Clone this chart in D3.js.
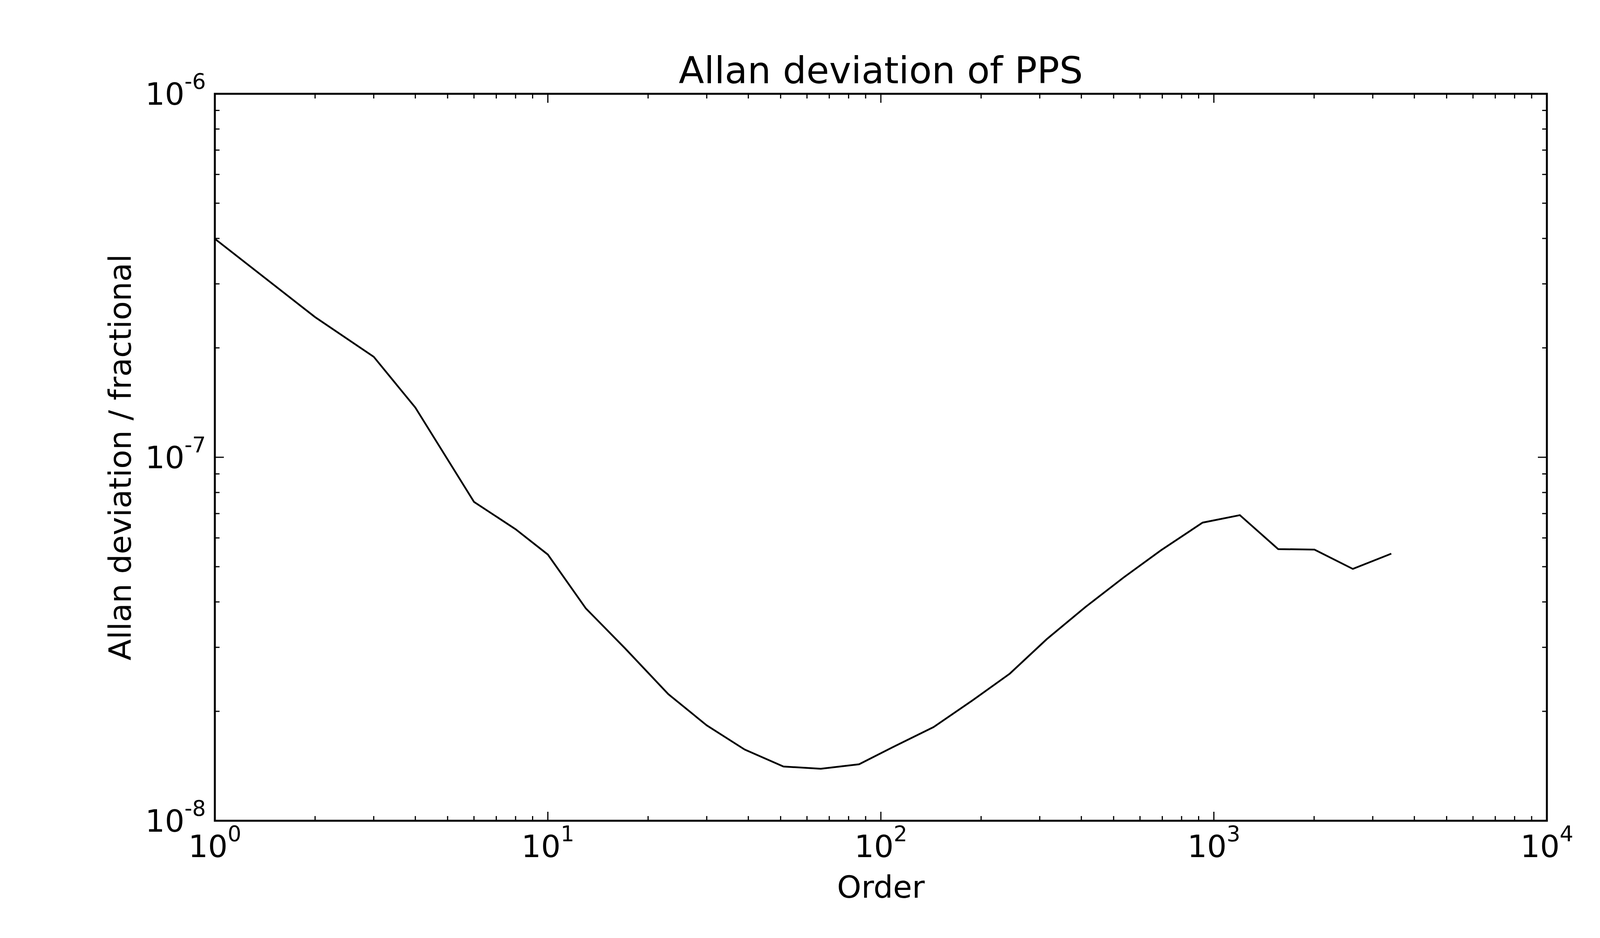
<!DOCTYPE html>
<html><head><meta charset="utf-8">
<script src="https://cdn.jsdelivr.net/npm/d3@7"></script>
<style>body{margin:0;background:#fff}text{font-family:"DejaVu Sans";fill:#000}</style>
</head><body>
<script>
const orders = [1,2,3,4,6,8,10,13,17,23,30,39,51,66,86,111,144,188,244,315,411,536,694,925,1197,1560,2005,2614,3410];
const adev = [3.99e-7,2.43e-7,1.89e-7,1.37e-7,7.54e-8,6.34e-8,5.40e-8,3.84e-8,2.99e-8,2.23e-8,1.83e-8,1.57e-8,1.41e-8,1.39e-8,1.43e-8,1.61e-8,1.81e-8,2.14e-8,2.54e-8,3.16e-8,3.87e-8,4.67e-8,5.55e-8,6.61e-8,6.93e-8,5.59e-8,5.57e-8,4.93e-8,5.43e-8];
const xExp = [0,1,2,3,4];
const yExp = [-6,-7,-8];

const W=4400,H=2400,L=550,R=3960,T=240,B=2100;
const svg=d3.select("body").append("svg").attr("width",W).attr("height",H);
const x=d3.scaleLog().domain([1,1e4]).range([L,R]);
const y=d3.scaleLog().domain([1e-8,1e-6]).range([B,T]);

const g=svg.append("g").attr("stroke","#000");
const xMinor=[],yMinor=[];
for(let e=0;e<4;e++)for(let m=2;m<10;m++)xMinor.push(m*Math.pow(10,e));
for(let e=-8;e<-6;e++)for(let m=2;m<10;m++)yMinor.push(m*Math.pow(10,e));
xMinor.forEach(v=>{g.append("line").attr("x1",x(v)).attr("x2",x(v)).attr("y1",B).attr("y2",B-12).attr("stroke-width",3);
 g.append("line").attr("x1",x(v)).attr("x2",x(v)).attr("y1",T).attr("y2",T+12).attr("stroke-width",3);});
yMinor.forEach(v=>{g.append("line").attr("y1",y(v)).attr("y2",y(v)).attr("x1",L).attr("x2",L+12).attr("stroke-width",3);
 g.append("line").attr("y1",y(v)).attr("y2",y(v)).attr("x1",R).attr("x2",R-12).attr("stroke-width",3);});
xExp.forEach(e=>{const v=Math.pow(10,e);
 g.append("line").attr("x1",x(v)).attr("x2",x(v)).attr("y1",B).attr("y2",B-23).attr("stroke-width",3);
 g.append("line").attr("x1",x(v)).attr("x2",x(v)).attr("y1",T).attr("y2",T+23).attr("stroke-width",3);
 const t=svg.append("text").attr("x",x(v)).attr("y",2193).attr("text-anchor","middle").attr("font-size",79);
 t.append("tspan").text("10"); t.append("tspan").attr("dy",-41).attr("font-size",55).text(e);
});
yExp.forEach(e=>{const v=Math.pow(10,e);
 g.append("line").attr("y1",y(v)).attr("y2",y(v)).attr("x1",L).attr("x2",L+23).attr("stroke-width",3);
 g.append("line").attr("y1",y(v)).attr("y2",y(v)).attr("x1",R).attr("x2",R-23).attr("stroke-width",3);
 const t=svg.append("text").attr("x",527).attr("y",y(v)+28).attr("text-anchor","end").attr("font-size",79);
 t.append("tspan").text("10"); t.append("tspan").attr("dy",-41).attr("font-size",55).text(e);
});

svg.append("path").datum(orders.map((o,i)=>[o,adev[i]]))
 .attr("d",d3.line().x(d=>x(d[0])).y(d=>y(d[1])))
 .attr("fill","none").attr("stroke","#000").attr("stroke-width",4.5);

svg.append("rect").attr("x",L).attr("y",T).attr("width",R-L).attr("height",B-T)
 .attr("fill","none").attr("stroke","#000").attr("stroke-width",5);

svg.append("text").attr("x",(L+R)/2).attr("y",213).attr("text-anchor","middle").attr("font-size",95).text("Allan deviation of PPS");
svg.append("text").attr("x",(L+R)/2).attr("y",2297).attr("text-anchor","middle").attr("font-size",79).text("Order");
svg.append("text").attr("transform",`translate(335,${(T+B)/2}) rotate(-90)`).attr("text-anchor","middle").attr("font-size",79).text("Allan deviation / fractional");
</script></body></html>
